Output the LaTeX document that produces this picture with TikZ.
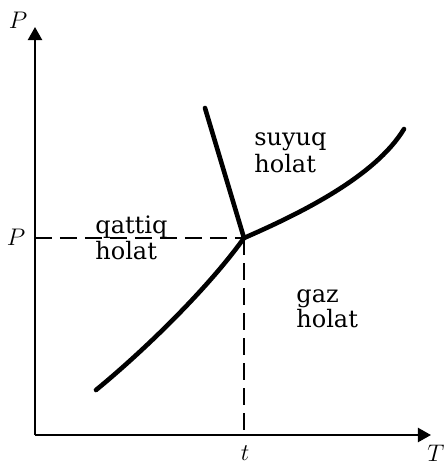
\documentclass[tikz,border=0pt]{standalone}
\usepackage{fontspec}
\usepackage{tikz}
\usetikzlibrary{arrows.meta, positioning}
\newfontfamily\regionfont{DejaVu Serif}

\begin{document}
\begin{tikzpicture}[x=0.5pt, y=-0.5pt, >={Triangle[length=6.5pt, width=7pt]}]
    \tikzstyle{axis} = [draw=black, line width=1.1pt]
    \tikzstyle{phase} = [draw=black, line width=2.3pt, line cap=round]
    \tikzstyle{guide} = [draw=black, line width=1pt, dash pattern=on 8.5pt off 4pt]
    \tikzstyle{region} = [font=\regionfont\fontsize{12}{13}\selectfont, anchor=base west, inner sep=0pt]
    \tikzstyle{tick} = [font=\fontsize{13}{14}\selectfont, anchor=base, inner sep=0pt]

    \useasboundingbox (0,0) rectangle (446,463);

    % Axes and points
    \coordinate (o) at (35,435);
    \coordinate (ptop) at (35,27);
    \coordinate (tend) at (431,435);
    \coordinate (tp) at (244,238);
    \coordinate (pax) at (35,238);
    \coordinate (tax) at (244,435);
    \coordinate (fus) at (205,108);
    \coordinate (vap) at (404,129);
    \coordinate (sub) at (96,390);

    \draw[axis, ->] (o) -- (ptop);
    \draw[axis, ->] (o) -- (tend);

    % Dashed guides
    \draw[guide] (pax) -- (tp);
    \draw[guide] (tp) -- (tax);

    % Phase boundaries
    \draw[phase] (fus) -- (tp);
    \draw[phase] (tp) .. controls (299,214) and (375,177) .. (vap);
    \draw[phase] (sub) .. controls (146,349) and (209,287) .. (tp);

    % Axis labels
    \node (plab) [tick] at (18,28) {$P$};
    \node (pval) [tick] at (16,245) {$P$};
    \node (tval) [tick] at (245,460) {$t$};
    \node (tlab) [tick] at (436,461) {$T$};

    % Region labels
    \node (solid) [region] at (95,233) {qattiq};
    \node (solidb) [region] at (95,259) {holat};
    \node (liquid) [region] at (254,145) {suyuq};
    \node (liquidb) [region] at (254,172) {holat};
    \node (gas) [region] at (296,302) {gaz};
    \node (gasb) [region] at (296,327) {holat};
\end{tikzpicture}
\end{document}
